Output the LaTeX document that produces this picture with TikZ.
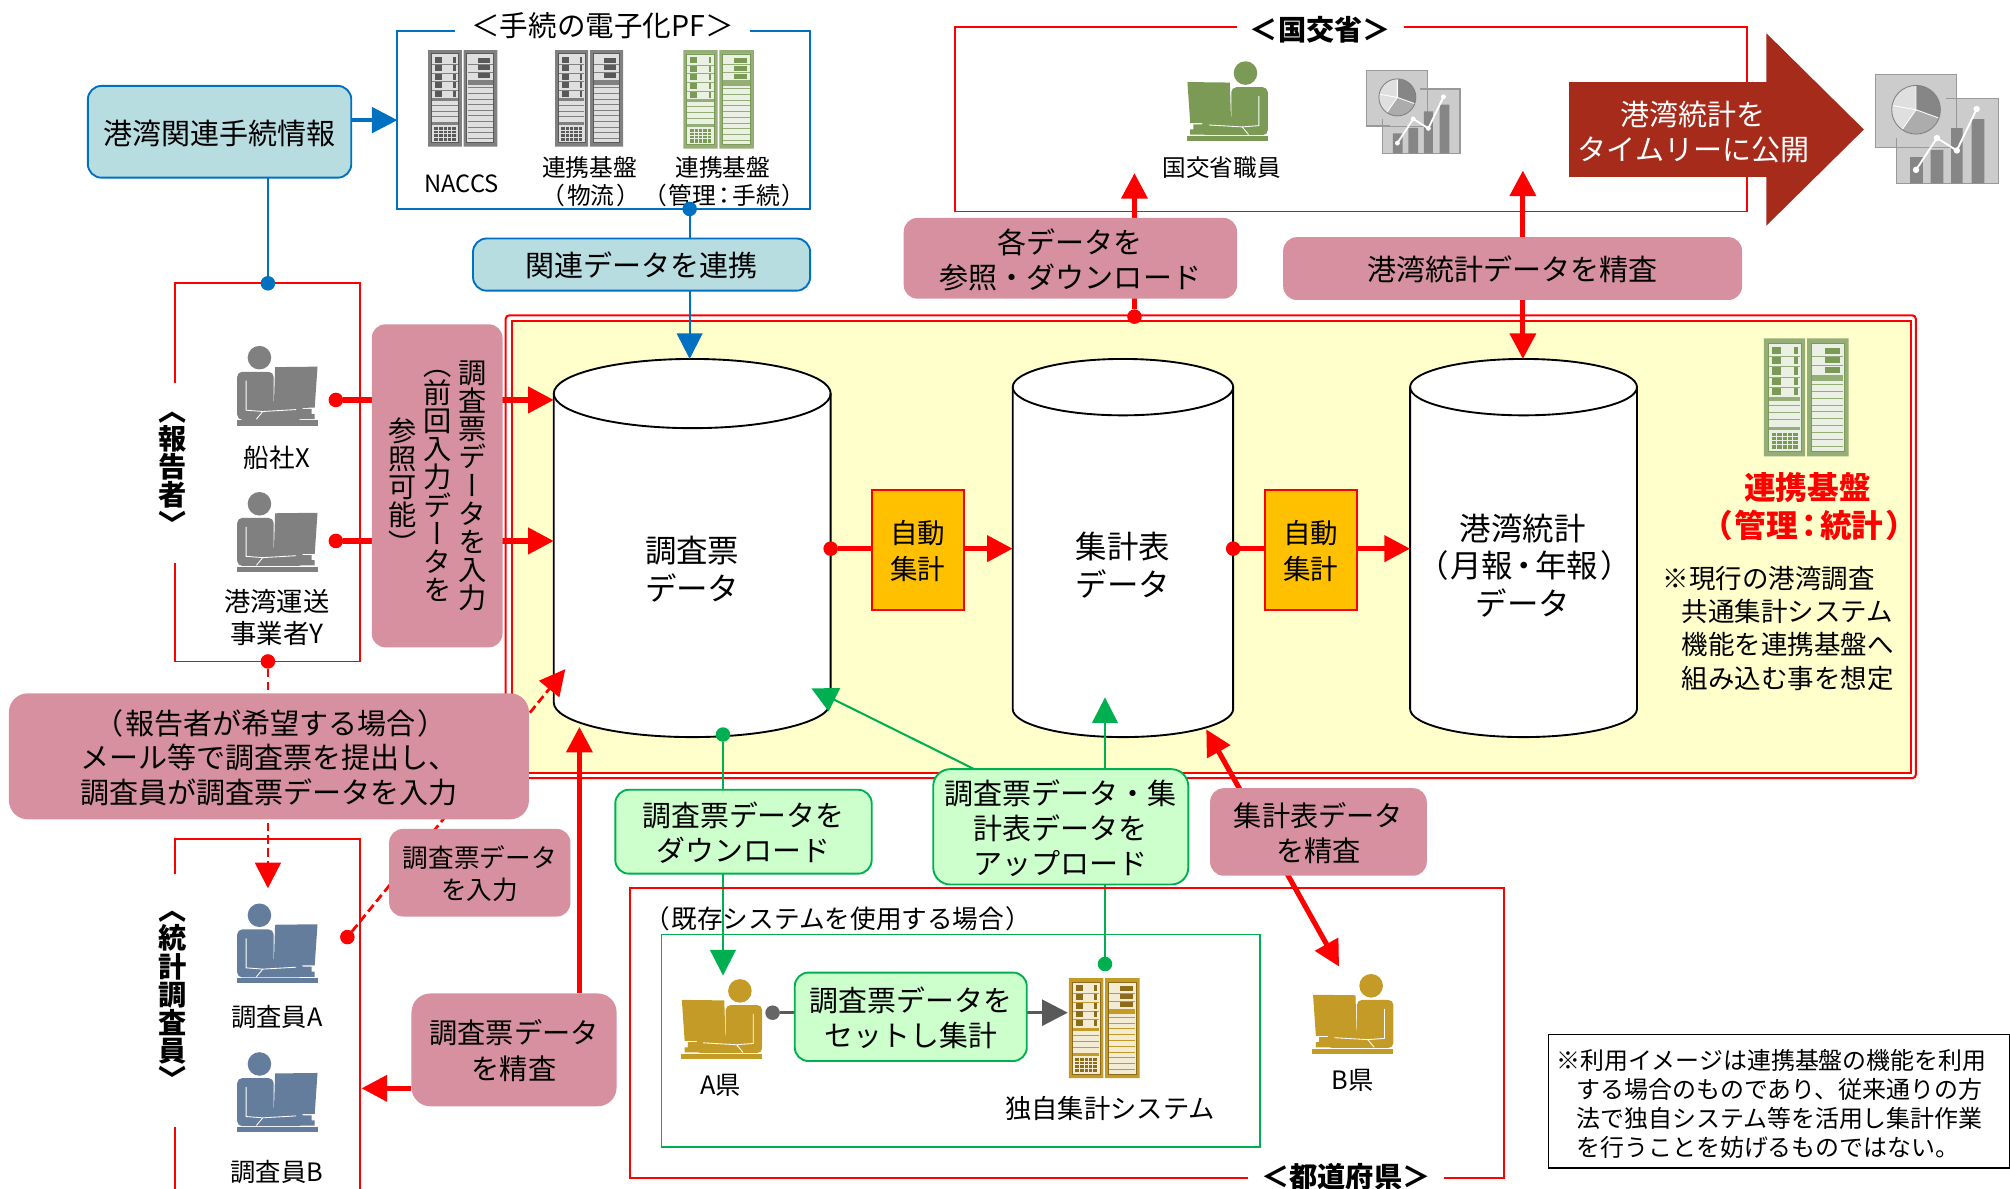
\documentclass[tikz,border=0pt]{standalone}
\usepackage{fontspec}
\usetikzlibrary{positioning}
\usetikzlibrary{arrows.meta}
\setmainfont{Noto Sans CJK JP}
\newfontfamily\tatefont[RawFeature={+vert}]{Noto Sans CJK JP}
\newfontfamily\paltfont[RawFeature={+palt}]{Noto Sans CJK JP}
\newcommand{\pl}[1]{\hspace{.1em}{\paltfont #1}\hspace{.1em}}
\setlength{\normallineskiplimit}{-20pt}
\setlength{\lineskiplimit}{-20pt}
\definecolor{pinkc}{HTML}{D6909F}
\definecolor{skyc}{HTML}{B7DDE1}
\definecolor{bluec}{HTML}{0070C0}
\definecolor{mintc}{HTML}{CCFFCC}
\definecolor{greenc}{HTML}{00B050}
\definecolor{creamc}{HTML}{FFFFCC}
\definecolor{brickc}{HTML}{A62B1B}
\definecolor{orangec}{HTML}{FFC000}
\definecolor{slatec}{HTML}{647D9C}
\definecolor{goldc}{HTML}{C59B27}
\definecolor{leafc}{HTML}{7A9A55}
\pgfdeclarelayer{bg}
\pgfdeclarelayer{conn}
\pgfsetlayers{bg,conn,main}
\tikzset{
  size/.style 2 args={minimum width=#1*.75pt,minimum height=#2*.75pt},
  fsize/.style 2 args={font=\fontsize{#1}{#2}\selectfont},
  every node/.style={inner sep=0pt,outer sep=0pt,align=center},
  pinkbox/.style={fill=pinkc,rounded corners=8pt,text depth=-3.5pt},
  skybox/.style={fill=skyc,draw=bluec,line width=1.1pt,rounded corners=8pt,text depth=-3.5pt},
  mintbox/.style={fill=mintc,draw=greenc,line width=1.1pt,rounded corners=8pt,text depth=-3.5pt},
  redframe/.style={draw=red,line width=1.1pt},
  titlebox/.style={fill=white,font=\bfseries\fontsize{16.5}{20}\selectfont},
  tate/.style 2 args={font=\tatefont#1\fontsize{#2}{#2}\selectfont},
  autobox/.style={fill=orangec,draw=red,line width=1.1pt,size={72}{94},fsize={16.1}{21},text depth=-3.5pt},
  dotnode/.style={circle,fill=#1,minimum size=8.5pt},
  bluearrow/.style={bluec,line width=#1,-{Triangle[length=15pt,width=15pt]}},
  redarrow/.style={red,line width=3pt,-{Triangle[length=15pt,width=15pt]}},
  redtwin/.style={red,line width=3pt,{Triangle[length=15pt,width=15pt]}-{Triangle[length=15pt,width=15pt]}},
  reddash/.style={red,line width=1.6pt,dash pattern=on 5pt off 2.5pt,-{Triangle[length=15pt,width=15pt]}},
  greenarrow/.style={greenc,line width=1.2pt,-{Triangle[length=15pt,width=15pt]}},
  pics/can/.style n args={3}{code={
    \draw[fill=white,line width=1.1pt] (-#1,#2) arc (180:360:#1 and #2) -- (#1,#3-#2) arc (0:180:#1 and #2) -- cycle;
    \draw[line width=1.1pt] (-#1,#2) arc (180:0:#1 and #2);
  }},
  pics/person/.style={code={
    \fill[#1] (17.4,9) circle (9.2);
    \fill[#1,rounded corners=3pt] (0,57.5) -- (0,20) -- (28.5,20) -- (28.5,47) -- (52,47) -- (52,57.5) -- cycle;
    \fill[#1] (29.6,16.4) -- (62.7,16) -- (60.5,48) -- (28.6,48.5) -- cycle;
    \fill[#1] (42,49) -- (58,49) -- (58,53) -- (60.5,53) -- (60.5,57) -- (42,57) -- cycle;
    \fill[#1] (0,58) rectangle (63.4,62);
    \draw[white,line width=.5pt] (7,27) -- (7,50) -- (20,51) -- (15,57) (20,51) -- (46,49.5);
  }},
  pics/rack/.style n args={3}{code={
    \fill[#1] (0,0) rectangle (48.8,100) (51.2,0) rectangle (100,100);
    \draw[#3,fill=#2,line width=.5pt] (5,4) rectangle (44,96) (56,4) rectangle (95,96);
    \foreach \i in {0,1,2,3,4} {
      \fill[#3] (10,7+\i*8.8) rectangle (20,13+\i*8.8);
      \fill[#3] (36,7+\i*8.8) rectangle (40,13+\i*8.8);
      \draw[#1,line width=.4pt] (6,15.2+\i*8.8) -- (43,15.2+\i*8.8);
    }
    \fill[#1] (6,50) rectangle (43,53);
    \foreach \i in {0,1,2,3} \draw[#1,line width=.4pt] (6,57+\i*6) -- (43,57+\i*6);
    \fill[#1] (6,75) rectangle (43,78);
    \fill[#3] (9,80) rectangle (40,94);
    \foreach \i in {0,1,2} \draw[#2,line width=.5pt] (9,83+\i*3.5) -- (40,83+\i*3.5);
    \foreach \i in {1,2,3,4} \draw[#2,line width=.5pt] (9+\i*6.2,80) -- (9+\i*6.2,94);
    \foreach \i in {0,1,2} {
      \fill[#3] (72,8+\i*8) rectangle (90,13+\i*8);
      \draw[#1,line width=.4pt] (57,15+\i*8) -- (94,15+\i*8);
    }
    \fill[#1] (57,31) rectangle (94,36);
    \foreach \i in {0,1,2,3,4,5,6,7,8,9} \draw[#1,line width=.4pt] (57,39+\i*5.8) -- (94,39+\i*5.8);
  }},
  pics/chart/.style={code={
    \draw[gray!80,fill=gray!40,line width=.7pt] (16.6,19) rectangle (96,85);
    \draw[gray!80,fill=gray!40,line width=.7pt] (0,0) rectangle (63,57);
    \fill[gray!40] (17,19.4) rectangle (62.6,56.6);
    \draw[gray!80,line width=.7pt] (63,0) -- (63,30) (55,19) -- (96,19) (0,57) -- (24,57) (16.6,50) -- (16.6,85);
    \fill[gray!95] (27,64.5) rectangle (37,85) (43,59) rectangle (53,85) (59,42) rectangle (68,85) (75,35) rectangle (85,85);
    \fill[gray!25] (31.7,27.6) circle (19);
    \fill[gray!95] (31.7,27.6) -- ++(-90:19) arc (-90:20:19) -- cycle;
    \fill[gray!65] (31.7,27.6) -- ++(20:19) arc (20:125:19) -- cycle;
    \draw[white,line width=.5pt] (31.7,27.6) -- ++(-90:19) (31.7,27.6) -- ++(20:19) (31.7,27.6) -- ++(125:19) (31.7,27.6) -- ++(190:19);
    \draw[gray,line width=.5pt] (31.7,27.6) circle (19);
    \draw[white,line width=1.1pt] (31.7,74.5) -- (48,49.7) -- (63.5,59.4) -- (79,27);
    \fill[white] (31.7,74.5) circle (2.5) (48,49.7) circle (2.5) (63.5,59.4) circle (2.5) (79,27) circle (2.5);
  }},
}
\begin{document}
\begin{tikzpicture}[x=.75pt,y=-.75pt]
        \useasboundingbox (0,0) rectangle (1568,927.5);

        \begin{pgfonlayer}{bg}
        \node[draw=red,line width=1.2pt,rounded corners=2pt,size={1100}{361}] (mainOut) at (944.5,426.5) {};
        \node[draw=red,fill=creamc,line width=1.2pt,size={1091}{352.5}] (mainIn) at (945,426.8) {};
        \pic at (540,280) {can={108}{27}{295}};
        \pic at (876,280) {can={86}{22}{295}};
        \pic at (1188.5,280) {can={88.5}{22}{295}};
        \end{pgfonlayer}
        \node[size={216}{295}] (cA) at (540,427.5) {};
        \node[size={172}{295}] (cB) at (876,427.5) {};
        \node[size={177}{295}] (cC) at (1188.5,427.5) {};

        \node[skybox,size={205.5}{71.6},fsize={17}{21}] (port) at (171.3,102.8) {港湾関連手続情報};
        \node[draw=bluec,line width=1.1pt,size={322}{138.6}] (pfFrame) at (471,93.7) {};
        \node[fill=white,size={230}{18},fsize={16.7}{20}] (pfTitle) at (470,20) {＜手続の電子化PF＞};
        \pic at (334,39) [xscale=.54,yscale=.754] {rack={gray}{gray!25}{black!65}};
        \pic at (433,39) [xscale=.53,yscale=.754] {rack={gray}{gray!25}{black!65}};
        \pic at (533,39) [xscale=.55,yscale=.77] {rack={leafc!80}{leafc!15}{leafc}};
        \node[fsize={13.9}{17}] (naccsTxt) at (360,143) {NACCS};
        \node[fsize={13.9}{16.5}] (rackBTxt) at (460,142) {連携基盤\\\pl{（}物流\pl{）}};
        \node[fsize={13.9}{16.5}] (rackCTxt) at (564,142) {連携基盤\\\pl{（}管理\pl{：}手続\pl{）}};
        \node[skybox,size={263}{40.7},fsize={17}{21}] (link) at (500.5,206.4) {関連データを連携};

        \node[redframe,size={144.4}{295}] (rptFrame) at (208.8,368.5) {};
        \node[fill=white,tate={\bfseries}{16.5},size={26}{140}] (rptTitle) at (135,369) {〈\\報\\告\\者\\〉};
        \pic at (185,270) {person=gray};
        \pic at (185,384) {person=gray};
        \node[fsize={15}{18}] (xTxt) at (216,357) {船社X};
        \node[fsize={15.4}{18.75}] (yTxt) at (216,482) {港湾運送\\事業者Y};

        \draw[redframe] (136.5,927.5) |- (281,654.4) -- (281,927.5);
        \node[fill=white,tate={\bfseries}{16.5},size={26}{197}] (statTitle) at (135,780.5) {〈\\統\\計\\調\\査\\員\\〉};
        \pic at (185,705) {person=slatec};
        \pic at (185,821) {person=slatec};
        \node[fsize={14.8}{18}] (aTxt) at (216,793) {調査員A};
        \node[fsize={14.8}{18}] (bTxt) at (216,914) {調査員B};

        \node[pinkbox,size={102}{252}] (inpBox) at (341,379) {};
        \node[tate={}{16.5}] (inpA) at (369,379) {調\\査\\票\\デ\\ー\\タ\\を\\入\\力};
        \node[tate={}{16.5}] (inpB) at (341,379) {（\\前\\回\\入\\力\\デ\\ー\\タ\\を};
        \node[tate={}{16.5}] (inpC) at (314,379) {参\\照\\可\\能\\）};

        \node[fsize={18.4}{22}] (cATxt) at (540,444) {調査票\\データ};
        \node[fsize={18.4}{22}] (cBTxt) at (876,441) {集計表\\データ};
        \node[fsize={18.4}{22}] (cCTxt) at (1188,441) {港湾統計\\\pl{（}月報\pl{・}年報\pl{）}\\データ};
        \node[autobox] (autoA) at (716,429) {自動\\集計};
        \node[autobox] (autoB) at (1022.5,429) {自動\\集計};

        \pic at (1376,264) [xscale=.66,yscale=.92] {rack={leafc!80}{leafc!15}{leafc}};
        \node[text=red,fsize={18.5}{22.5}] (baseTxt) at (1410,395) {\bfseries 連携基盤\\\bfseries \pl{（}管理\pl{：}統計\pl{）}};
        \node[anchor=west,align=left,fsize={15.5}{19.5}] (baseNote) at (1297,490) {※現行の港湾調査\\\hspace{.72em}共通集計システム\\\hspace{.72em}機能を連携基盤へ\\\hspace{.72em}組み込む事を想定};

        \node[redframe,size={618}{144}] (mlitFrame) at (1054,93) {};
        \node[titlebox,minimum width=130*.75pt] (mlitTitle) at (1030,23) {＜国交省＞};
        \pic at (989,48) [xscale=-1] {person=leafc};
        \node[fsize={13.8}{17}] (mlitTxt) at (953,131) {国交省職員};
        \pic at (1066,55) [scale=.76] {chart};
        \fill[brickc] (1224,64) -- (1378,64) -- (1378,26) -- (1454,101) -- (1378,176) -- (1378,138) -- (1224,138) -- cycle;
        \node[text=white,fsize={17}{20.3}] (pubTxt) at (1321,103) {港湾統計を\\タイムリーに公開};
        \pic at (1463,58) {chart};

        \node[pinkbox,size={260}{63},fsize={17}{20.3}] (refBox) at (835,201.5) {各データを\\参照・ダウンロード};
        \node[pinkbox,size={358}{49},fsize={17}{20}] (chkPort) at (1180,209.5) {港湾統計データを精査};

        \node[pinkbox,size={405.6}{98.3},rounded corners=11pt,fsize={17}{20.3}] (mailBox) at (209.8,590) {\pl{（}報告者が希望する場合\pl{）}\\メール等で調査票を提出し、\\調査員が調査票データを入力};
        \node[pinkbox,size={141.4}{68.3},fsize={15}{18.75}] (inpt) at (374.3,680.8) {調査票データ\\を入力};
        \node[pinkbox,size={160}{88},rounded corners=11pt,fsize={16.5}{21}] (chkBox) at (401,819) {調査票データ\\を精査};

        \node[mintbox,size={200}{65.5},fsize={16.9}{21}] (dlBox) at (580,648.8) {調査票データを\\ダウンロード};
        \node[mintbox,size={199}{90},rounded corners=10pt,fsize={17}{20.6}] (upBox) at (827.5,645) {調査票データ・集\\計表データを\\アップロード};
        \node[pinkbox,size={169}{68.3},fsize={16.5}{21}] (sumBox) at (1028.5,649) {集計表データ\\を精査};

        \node[redframe,size={682}{225.6}] (prefFrame) at (832.6,805.8) {};
        \node[titlebox,minimum width=153*.75pt] (prefTitle) at (1050,918) {＜都道府県＞};
        \node[draw=greenc,line width=1.1pt,size={467}{166}] (ownFrame) at (749.5,812) {};
        \node[anchor=west,fsize={15}{18}] (ownTxt) at (510,717) {\pl{（}既存システムを使用する場合\pl{）}};
        \pic at (594.6,764) [xscale=-1] {person=goldc};
        \node[fsize={14.8}{18}] (prefATxt) at (562,847) {A県};
        \node[mintbox,size={181}{69},fsize={16.9}{20.3}] (setBox) at (710.5,793.2) {調査票データを\\セットし集計};
        \pic at (833.8,763) [xscale=.552,yscale=.78] {rack={goldc}{goldc!20}{goldc!70!black}};
        \node[fsize={15.4}{18}] (ownSys) at (866,865) {独自集計システム};
        \pic at (1087,760) [xscale=-1] {person=goldc};
        \node[fsize={14.8}{18}] (prefBTxt) at (1055,843) {B県};

        \node[draw,fill=white,line width=.8pt,size={359.5}{104}] (noteBox) at (1387.7,859) {};
        \node[anchor=west,align=left,fsize={14}{16.9}] (noteTxt) at (1214,861) {※利用イメージは連携基盤の機能を利用\\\hspace{.85em}する場合のものであり、従来通りの方\\\hspace{.85em}法で独自システム等を活用し集計作業\\\hspace{.85em}を行うことを妨げるものではない。};

        \node[dotnode=bluec] (dPort) at (209,221) {};
        \node[dotnode=bluec] (dPf) at (538,163) {};
        \node[dotnode=red] (dX) at (262,312) {};
        \node[dotnode=red] (dY) at (262,422) {};
        \node[dotnode=red] (dA) at (648,428) {};
        \node[dotnode=red] (dC) at (962,428) {};
        \node[dotnode=red] (dRef) at (885,247) {};
        \node[dotnode=red] (dRpt) at (209,516) {};
        \node[dotnode=red] (dInp) at (271,731) {};
        \node[dotnode=greenc] (dDl) at (564,573) {};
        \node[dotnode=greenc] (dUp) at (862,752) {};
        \node[dotnode=black!60] (dSet) at (602.7,790) {};

        \coordinate (tipRef) at (885,135);
        \coordinate (tipChkA) at (1188,133);
        \coordinate (tipChkB) at (1188,280);
        \coordinate (tipMail) at (209,693);
        \coordinate (tipInp) at (441,522);
        \coordinate (tipChk) at (452,567);
        \coordinate (tipStat) at (282,849);
        \coordinate (tipSumA) at (941,569);
        \coordinate (tipSumB) at (1044.6,754);
        \coordinate (tipDl) at (564,761);
        \coordinate (tipUp) at (862,544);
        \coordinate (tipUpL) at (633,537);
        \coordinate (fromUpL) at (760,600);
        \coordinate (tipSet) at (833,790);

        \begin{pgfonlayer}{conn}
        \path [bluearrow=2.2pt] (port.east |- pfFrame.west) edge (pfFrame.west);
        \path [bluec,line width=1.2pt] (dPort |- port.south) edge (dPort);
        \path [bluearrow=1.2pt] (dPf) edge (dPf |- cA.north);

        \path [redarrow] (dX) edge (dX -| cA.west)
        (dY) edge (dY -| cA.west)
        (dA -| autoA.east) edge (dA -| cB.west)
        (dC -| autoB.east) edge (dC -| cC.west)
        (dRef) edge (tipRef)
        (tipChk |- chkBox.north) edge (tipChk)
        (tipStat -| chkBox.west) edge (tipStat);
        \path [red,line width=3pt] (dA) edge (dA -| autoA.west)
        (dC) edge (dC -| autoB.west);
        \path [redtwin] (tipChkA) edge (tipChkB)
        (tipSumA) edge (tipSumB);
        \path [reddash] (dRpt) edge (tipMail)
        (dInp) edge (tipInp);

        \path [greenarrow] (dDl) edge (tipDl)
        (dUp) edge (tipUp)
        (fromUpL) edge (tipUpL);
        \path [black!65,line width=2pt] (dSet) edge (dSet -| setBox.west);
        \path [black!65,line width=2pt,-{Triangle[length=15pt,width=15pt]}] (tipSet -| setBox.east) edge (tipSet);
        \end{pgfonlayer}
\end{tikzpicture}
\end{document}
